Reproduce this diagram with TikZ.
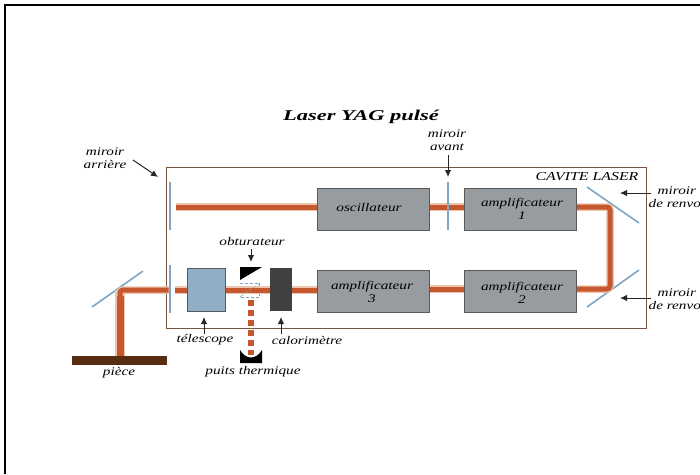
\documentclass[tikz,border=0pt]{standalone}
\usepackage{fontspec}
\usetikzlibrary{arrows.meta}
\setmainfont{Liberation Serif}
\newfontfamily\labelfont[FakeStretch=1.3]{Liberation Serif}
\newfontfamily\titlefont[FakeStretch=1.5]{Liberation Serif}
\definecolor{beamcore}{RGB}{198, 88, 48}
\definecolor{beamhalo}{RGB}{238, 196, 172}
\definecolor{glass}{RGB}{124, 166, 194}
\definecolor{telescopeblue}{RGB}{143, 175, 200}
\definecolor{unitgray}{RGB}{150, 156, 160}
\definecolor{cavitybrown}{RGB}{120, 85, 65}
\definecolor{piecebrown}{RGB}{88, 44, 16}
\begin{document}
\begin{tikzpicture}[
        x=1pt, y=-1pt,
        every node/.style={inner sep=0pt, align=center, font=\labelfont\itshape\fontsize{11.7}{13}\selectfont},
        unit/.style={draw=black!65, line width=1pt, fill=unitgray, minimum width=112pt, minimum height=42pt},
        endmirror/.style={fill=glass, minimum width=2.5pt, minimum height=48pt},
        foldmirror/.style={draw=glass, line width=1.6pt},
        beam/.style={draw=beamcore, line width=5pt, rounded corners=3pt, preaction={draw=beamhalo, line width=7.5pt}},
        thickbeam/.style={draw=beamcore, line width=7pt, preaction={draw=beamhalo, line width=10.5pt}},
        dashedbeam/.style={draw=beamcore, line width=6.5pt, dash pattern=on 6pt off 4pt},
        pointer/.style={draw=black!85, line width=1pt, -{Latex[length=7pt,width=6.5pt]}}
      ]
        \useasboundingbox (0,0) rectangle (700,474);
        \draw[line width=2pt] (5,474) -- (5,4.5) -- (700,4.5);
        \node[font=\titlefont\itshape\bfseries\fontsize{15}{17}\selectfont] (title) at (361,117) {Laser YAG pulsé};
        \node[draw=cavitybrown, line width=1pt, minimum width=480pt, minimum height=161pt] (cavity) at (406.75,247.5) {};
        \node[font=\labelfont\itshape\fontsize{12.2}{14}\selectfont] (cavitylabel) at (587,176.5) {CAVITE LASER};

        \node[endmirror] (rear) at (170,206) {};
        \node[endmirror] (output) at (170,289) {};
        \coordinate (foldtop) at (610,207);
        \coordinate (foldbottom) at (610,289);
        \coordinate (foldout) at (120,290);
        \draw[foldmirror] (587,187) -- (639,223);
        \draw[foldmirror] (587,307) -- (639,270);
        \draw[foldmirror] (92,307) -- (143,271);

        \node[unit] (oscillator) at (373.5,209.5) {};
        \node[unit] (amp1) at (520.5,209.5) {};
        \node[unit] (amp2) at (520.5,291.5) {};
        \node[unit] (amp3) at (373.5,291.5) {};
        \node[draw=black!65, line width=1pt, fill=telescopeblue, minimum width=38pt, minimum height=43pt] (telescope) at (206,289.5) {};
        \node[fill=black!75, minimum width=22pt, minimum height=43pt] (calorimeter) at (281,289.5) {};
        \node[fill=piecebrown, minimum width=95pt, minimum height=9pt] (piece) at (119.5,360.5) {};
        \node[draw=glass, densely dashed, line width=0.5pt, minimum width=19pt, minimum height=14pt] (shutteropen) at (250,290) {};
        \coordinate (dumpbeam) at (251,300);
        \coordinate (dump) at (251,355);

        \fill (240,267) -- (262,267) -- (240,280) -- cycle;
        \fill (240,350) .. controls (246,360) and (256,360) .. (262,350) -- (262,363) -- (240,363) -- cycle;

        \draw[beam] (rear.east |- foldtop) ++(5,0) -- (oscillator.west |- foldtop);
        \draw[beam] (oscillator.east |- foldtop) -- (amp1.west |- foldtop);
        \draw[beam] (amp1.east |- foldtop) -- (foldtop) -- (foldbottom) -- (amp2.east |- foldbottom);
        \draw[beam] (amp2.west |- foldbottom) -- (amp3.east |- foldbottom);
        \draw[beam] (amp3.west |- foldout) -- (calorimeter.east |- foldout);
        \draw[beam] (calorimeter.west |- foldout) -- (telescope.east |- foldout);
        \draw[beam] (telescope.west |- foldout) -- ++(-12,0);
        \draw[thickbeam] (foldout) -- (foldout |- piece.north);
        \draw[beam] (output.west |- foldout) -- (foldout) -- ++(0,6);
        \draw[dashedbeam] (dumpbeam) -- (dump);
        \draw[glass, densely dashed, line width=0.5pt] (241,296) -- (259,284);
        \node[endmirror] (front) at (448,206) {};

        \node (rearlabel) at (105,158.5) {miroir\\arrière};
        \node (frontlabel) at (447,140.5) {miroir\\avant};
        \node[align=left, anchor=west] (foldtoplabel) at (648.5,197) {\hspace*{9pt}miroir\\de renvo};
        \node[align=left, anchor=west] (foldbottomlabel) at (648.5,299.5) {\hspace*{9pt}miroir\\de renvo};
        \node (oscillatorlabel) at (369,208) {oscillateur};
        \node (amp1label) at (522,209) {amplificateur\\1};
        \node (amp2label) at (522,292.5) {amplificateur\\2};
        \node (amp3label) at (372,292) {amplificateur\\3};
        \node (shutterlabel) at (252,242) {obturateur};
        \node (telescopelabel) at (205,340) {télescope};
        \node (calorimeterlabel) at (307,340) {calorimètre};
        \node (piecelabel) at (119,373) {pièce};
        \node (dumplabel) at (253,372) {puits thermique};

        \coordinate (rearpoint) at (158,177);
        \coordinate (frontpoint) at (448,177);
        \coordinate (foldtoppoint) at (620,193);
        \coordinate (foldbottompoint) at (620,298);
        \coordinate (shutterpoint) at (251,262);
        \coordinate (telescopepoint) at (204,317);
        \coordinate (calorimeterpoint) at (281,317);
        \coordinate (reartail) at (133,160);
        \coordinate (fronttail) at (448,155);
        \coordinate (foldtoptail) at (651,193);
        \coordinate (foldbottomtail) at (651,298);
        \coordinate (shuttertail) at (251,249);
        \coordinate (telescopetail) at (204,334);
        \coordinate (calorimetertail) at (281,334);
        \draw[pointer] (reartail) -- (rearpoint);
        \draw[pointer] (fronttail) -- (frontpoint);
        \draw[pointer] (foldtoptail) -- (foldtoppoint);
        \draw[pointer] (foldbottomtail) -- (foldbottompoint);
        \draw[pointer] (shuttertail) -- (shutterpoint);
        \draw[pointer] (telescopetail) -- (telescopepoint);
        \draw[pointer] (calorimetertail) -- (calorimeterpoint);
      \end{tikzpicture}
\end{document}
